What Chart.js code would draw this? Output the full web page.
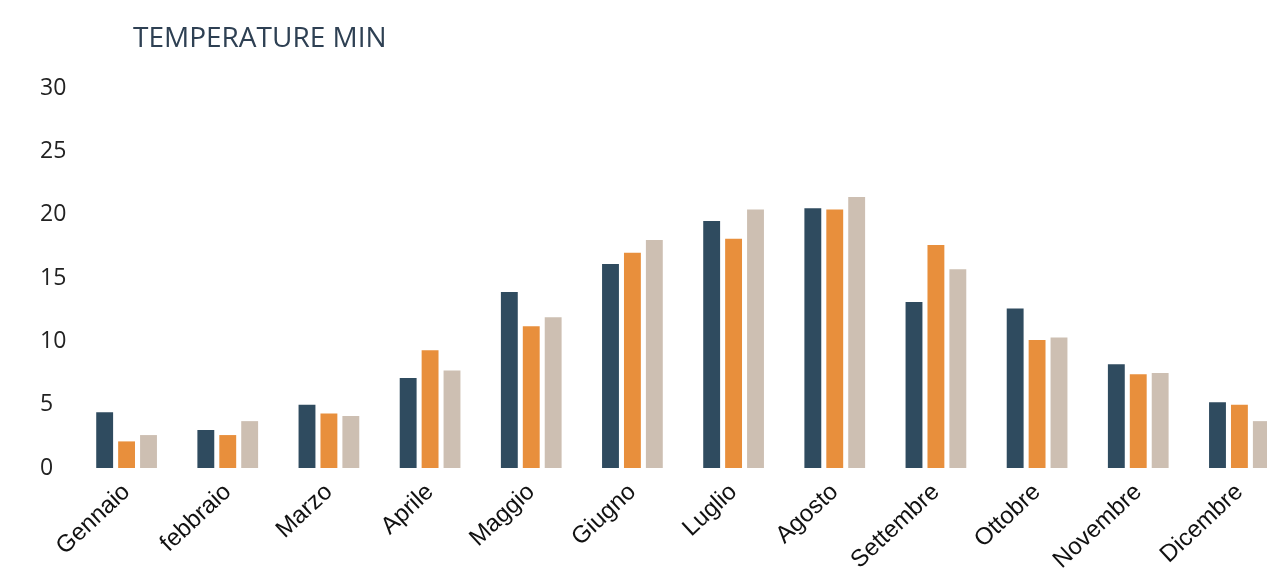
<!DOCTYPE html>
<html>
<head>
<meta charset="utf-8">
<script src="https://cdn.jsdelivr.net/npm/chart.js@4.4.1/dist/chart.umd.min.js"></script>
<style>
  html, body { margin: 0; padding: 0; background: #fff; overflow: hidden; }
  #wrap { position: relative; width: 1267px; height: 573px; overflow: hidden; }
  #title { position: absolute; left: 133px; top: 17px; font-family: "Open Sans", sans-serif; font-size: 28px; color: #2e4053; }
  canvas { position: absolute; left: 0; top: 0; }
</style>
</head>
<body>
<div id="wrap">
  <canvas id="chart" width="1290" height="573"></canvas>
  <div id="title">TEMPERATURE MIN</div>
</div>
<script>
const months = ["Gennaio", "febbraio", "Marzo", "Aprile", "Maggio", "Giugno", "Luglio", "Agosto", "Settembre", "Ottobre", "Novembre", "Dicembre"];
const serieA = [4.4, 3.0, 5.0, 7.1, 13.9, 16.1, 19.5, 20.5, 13.1, 12.6, 8.2, 5.2];
const serieB = [2.1, 2.6, 4.3, 9.3, 11.2, 17.0, 18.1, 20.4, 17.6, 10.1, 7.4, 5.0];
const serieC = [2.6, 3.7, 4.1, 7.7, 11.9, 18.0, 20.4, 21.4, 15.7, 10.3, 7.5, 3.7];
const yTicks = [0, 5, 10, 15, 20, 25, 30];

const colors = ["#2f4b5f", "#e88f3c", "#cdbfb2"];

const ctx = document.getElementById("chart").getContext("2d");
new Chart(ctx, {
  type: "bar",
  data: {
    labels: months,
    datasets: [
      { label: "A", data: serieA, backgroundColor: colors[0] },
      { label: "B", data: serieB, backgroundColor: colors[1] },
      { label: "C", data: serieC, backgroundColor: colors[2] }
    ]
  },
  options: {
    responsive: false,
    animation: false,
    devicePixelRatio: 1,
    layout: { padding: { left: 40, top: 88, right: 0, bottom: 0 } },
    datasets: { bar: { barPercentage: 0.77, categoryPercentage: 0.65 } },
    plugins: { legend: { display: false }, tooltip: { enabled: false } },
    scales: {
      x: {
        grid: { display: false, drawTicks: false },
        border: { display: false },
        ticks: {
          minRotation: 43, maxRotation: 43, padding: 10,
          color: "#111",
          font: { family: "Liberation Sans, Arial, sans-serif", size: 24 }
        },
        afterFit: s => { s.height = 105; }
      },
      y: {
        min: 0, max: 30,
        afterBuildTicks: s => { s.ticks = yTicks.map(v => ({ value: v })); },
        grid: { display: false, drawTicks: false },
        border: { display: false },
        ticks: {
          crossAlign: "far", padding: 0,
          color: "#222",
          font: { family: "Open Sans, sans-serif", size: 23 }
        },
        afterFit: s => { s.width = 36; }
      }
    }
  }
});
</script>
</body>
</html>
